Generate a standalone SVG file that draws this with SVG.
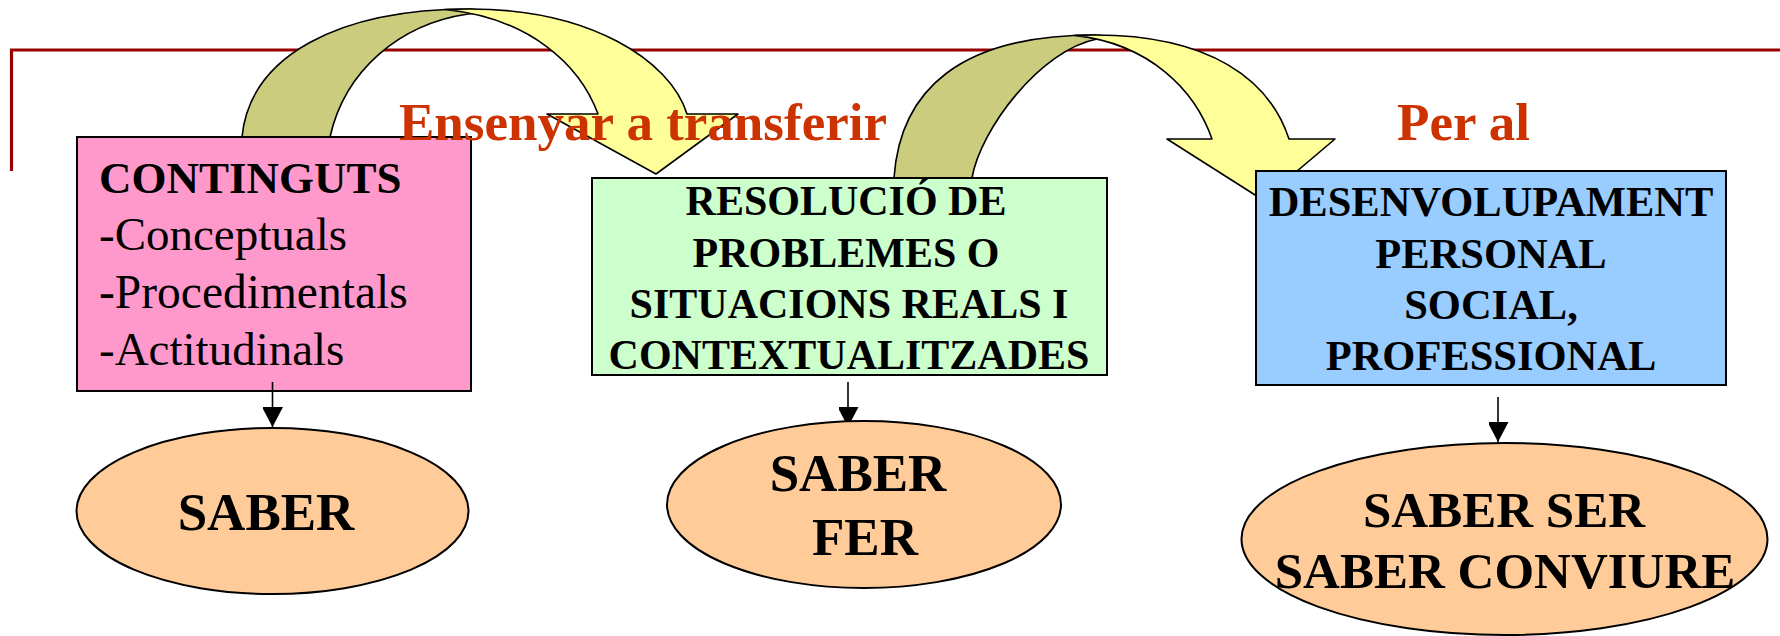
<svg xmlns="http://www.w3.org/2000/svg" width="1780" height="636" viewBox="0 0 1780 636">
<style>
.box{stroke:#000;stroke-width:2}
.dark{fill:#CCCC7F;stroke:#000;stroke-width:1.6;stroke-linejoin:round}
.yel{fill:#FFFF99;stroke:#000;stroke-width:1.6;stroke-linejoin:round}
.ell{fill:#FFCC99;stroke:#000;stroke-width:2}
.b{font-family:"Liberation Serif","Times New Roman",serif;font-weight:bold;fill:#000}
.r{font-family:"Liberation Serif","Times New Roman",serif;fill:#000}
.red{font-family:"Liberation Serif","Times New Roman",serif;font-weight:bold;fill:#CC3300;font-size:52px}
.conn{stroke:#000;stroke-width:1.6;fill:none}
</style>
<defs>
<marker id="ah" markerWidth="21" markerHeight="20" refX="20" refY="10.5" orient="auto" markerUnits="userSpaceOnUse">
<path d="M0,0 L20,10.5 L0,21 Z" fill="#000"/>
</marker>
</defs>
<rect width="1780" height="636" fill="#fff"/>
<g id="frame">
<path d="M11.5,171 L11.5,50 L1780,50" fill="none" stroke="#990000" stroke-width="3.2"/>
</g>
<g id="curved-arrow-1">
<path class="dark" d="M242,137 C250,55 340,9 470,9 L500,12 L468,14 C400,24 345,70 330,137 Z"/>
<path class="yel" d="M445,9.5 C453,9.2 462,9 470,9 C590,9 670,60 687,114 L738,114 L656,174 L547,114 L598,114 C580,65 530,18 445,9.5 Z"/>
</g>
<g id="curved-arrow-2">
<path class="dark" d="M894,178 C900,90 960,35 1095,35 L1125,38 L1097,39 C1040,50 980,130 972,178 Z"/>
<path class="yel" d="M1075,35.4 C1082,35.1 1088,35 1095,35 C1210,35 1270,80 1289,139 L1335,139 L1263,200 L1167,139 L1212,139 C1195,90 1150,44 1075,35.4 Z"/>
</g>
<g id="node-continguts">
<rect class="box" x="77" y="137" width="394" height="254" fill="#FF99CC"/>
<text class="b" x="99" y="193" font-size="45">CONTINGUTS</text>
<text class="r" x="99" y="250" font-size="47">-Conceptuals</text>
<text class="r" x="99" y="308" font-size="47.5">-Procedimentals</text>
<text class="r" x="99" y="365" font-size="47">-Actitudinals</text>
</g>
<g id="node-resolucio">
<rect class="box" x="592" y="178" width="515" height="197" fill="#CCFFCC"/>
<g class="b" font-size="42" text-anchor="middle">
<text x="846" y="215">RESOLUCIÓ DE</text>
<text x="846" y="267">PROBLEMES O</text>
<text x="849" y="318">SITUACIONS REALS I</text>
<text x="849" y="369">CONTEXTUALITZADES</text>
</g>
</g>
<g id="node-desenvolupament">
<rect class="box" x="1256" y="171" width="470" height="214" fill="#99CCFF"/>
<g class="b" font-size="42.5" text-anchor="middle">
<text x="1491" y="216">DESENVOLUPAMENT</text>
<text x="1491" y="268">PERSONAL</text>
<text x="1491" y="319">SOCIAL,</text>
<text x="1491" y="370">PROFESSIONAL</text>
</g>
</g>
<g id="label-ensenyar">
<text class="red" x="399" y="140" textLength="488" lengthAdjust="spacingAndGlyphs">Ensenyar a transferir</text>
</g>
<g id="label-peral">
<text class="red" x="1397" y="140" textLength="133" lengthAdjust="spacingAndGlyphs">Per al</text>
</g>
<g id="connectors">
<line class="conn" x1="272.5" y1="382" x2="272.5" y2="427" marker-end="url(#ah)"/>
<line class="conn" x1="848" y1="382" x2="848" y2="427" marker-end="url(#ah)"/>
<line class="conn" x1="1498" y1="397" x2="1498" y2="442" marker-end="url(#ah)"/>
</g>
<g id="node-saber">
<ellipse class="ell" cx="272.5" cy="511" rx="196" ry="83"/>
<text class="b" x="266" y="530" font-size="53" text-anchor="middle">SABER</text>
</g>
<g id="node-saber-fer">
<ellipse class="ell" cx="864" cy="504.5" rx="197" ry="83.5"/>
<text class="b" x="858" y="491" font-size="53" text-anchor="middle">SABER</text>
<text class="b" x="865" y="555" font-size="53" text-anchor="middle">FER</text>
</g>
<g id="node-saber-ser">
<ellipse class="ell" cx="1504.5" cy="539" rx="263" ry="96"/>
<text class="b" x="1504" y="527" font-size="51" text-anchor="middle">SABER SER</text>
<text class="b" x="1505" y="588" font-size="51" text-anchor="middle">SABER CONVIURE</text>
</g>
</svg>
